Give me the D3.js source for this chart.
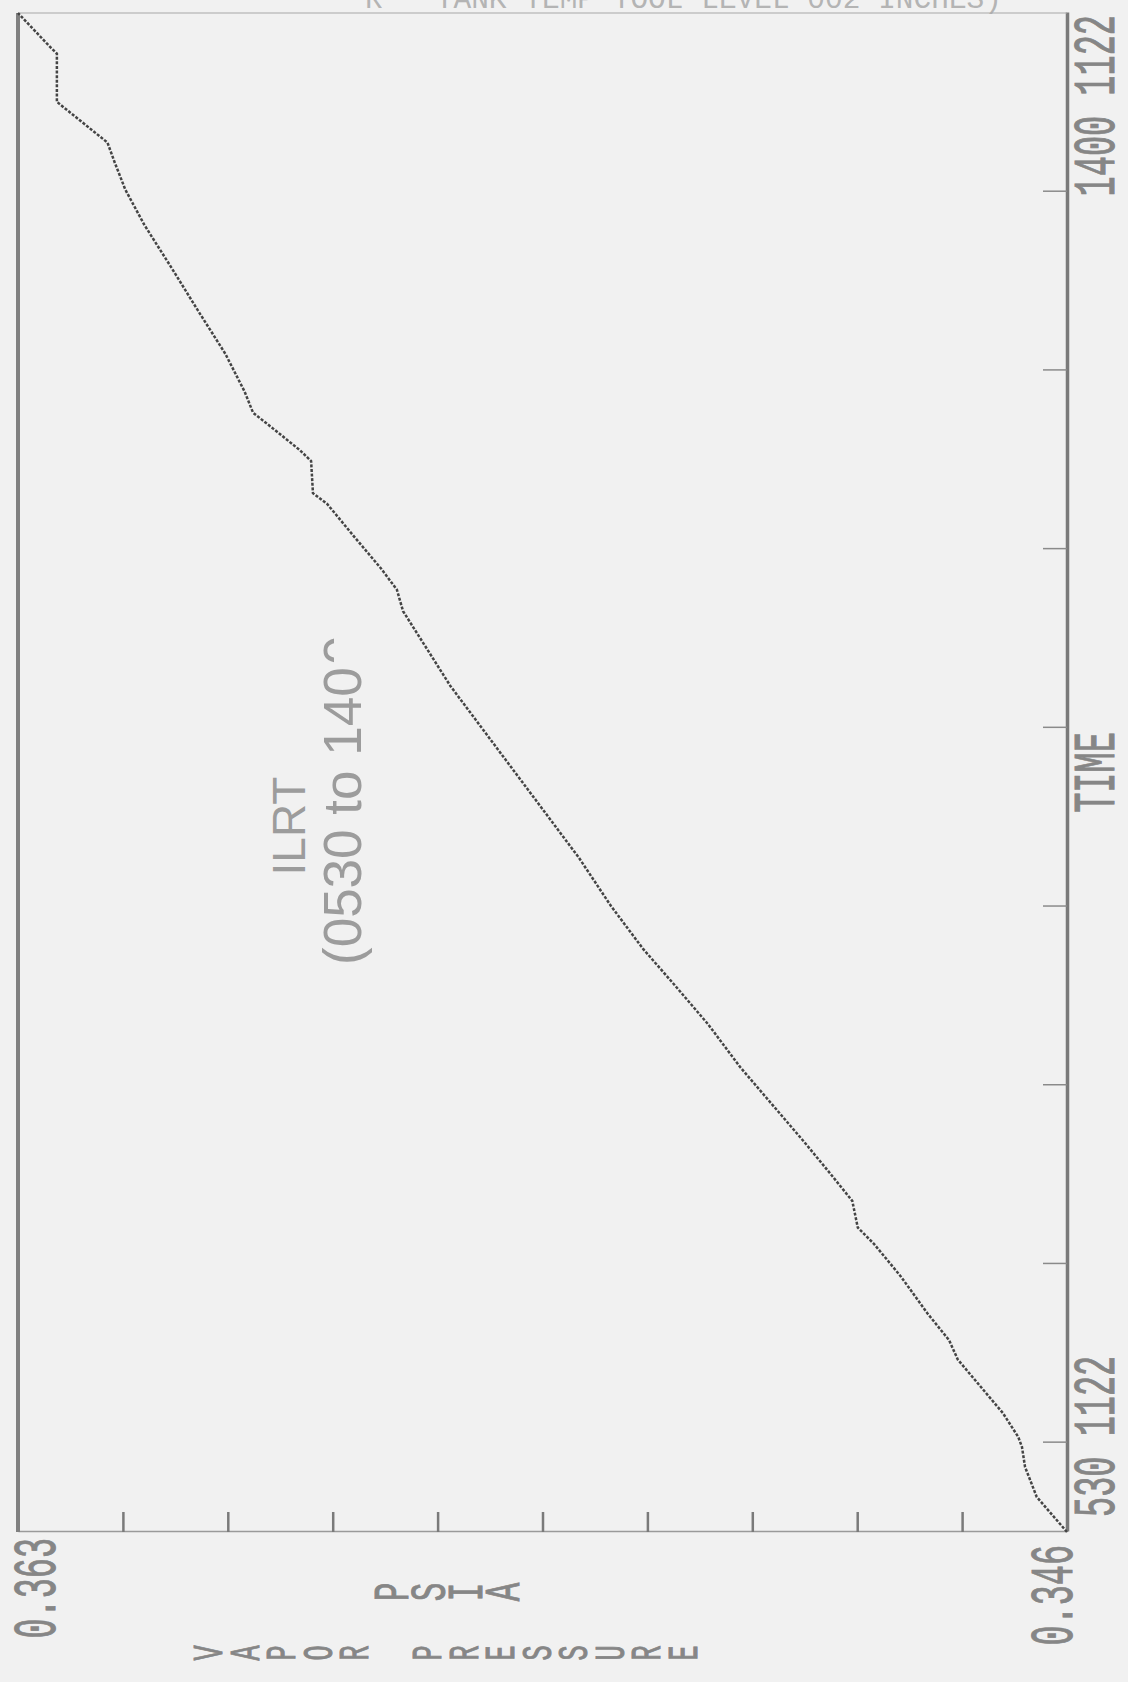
<!DOCTYPE html>
<html>
<head>
<meta charset="utf-8">
<script src="https://cdn.jsdelivr.net/npm/d3@7/dist/d3.min.js"></script>
<style>
  body { margin: 0; background: #f1f1f1; }
  svg { display: block; }
</style>
</head>
<body>
<div id="chart"></div>
<script>
var width = 1128,
    height = 1682;

// ILRT run, 05:30 to 14:00 on 11/22 (decimal hours) and vapor pressure (psia)
var hours = [5.5, 5.696, 5.864, 5.976, 6.032, 6.166, 6.465, 6.573, 6.723, 6.933,
             7.113, 7.203, 7.353, 7.503, 7.683, 7.893, 8.103, 8.343, 8.553, 8.763,
             9.003, 9.273, 9.513, 9.753, 9.993, 10.233, 10.473, 10.653, 10.773, 10.893,
             11.073, 11.253, 11.313, 11.493, 11.553, 11.673, 11.763, 11.883, 12.093, 12.333,
             12.573, 12.813, 13.011, 13.161, 13.275, 13.503, 13.773, 13.803, 14.0];
var pressure = [0.3460, 0.34649, 0.34668, 0.34673, 0.34679, 0.34704, 0.34777, 0.34791, 0.34826, 0.34870,
                0.34913, 0.34939, 0.34948, 0.34983, 0.35026, 0.35078, 0.35130, 0.35182, 0.35234, 0.35287,
                0.35339, 0.35391, 0.35443, 0.35495, 0.35547, 0.35599, 0.35643, 0.35676, 0.35686, 0.35712,
                0.35756, 0.35799, 0.35822, 0.35825, 0.35843, 0.35886, 0.35919, 0.35933, 0.35964, 0.36008,
                0.36051, 0.36095, 0.36126, 0.36143, 0.36155, 0.36237, 0.36237, 0.36246, 0.3630];

var hourTicks = [6, 7, 8, 9, 10, 11, 12, 13];
var pressureTicks = [0.3477, 0.3494, 0.3511, 0.3528, 0.3545, 0.3562, 0.3579, 0.3596, 0.3613];
var timeLabels = ['530 1122', '1400 1122'];
var pressureLabels = ['0.346', '0.363'];
var axisTitle = ['V', 'A', 'P', 'O', 'R', ' ', 'P', 'R', 'E', 'S', 'S', 'U', 'R', 'E'];
var unitTitle = ['P', 'S', 'I', 'A'];

var data = hours.map(function(h, i) { return {t: h, p: pressure[i]}; });

// page box of the plot; the chart is printed turned a quarter turn
var box = {left: 18, top: 13, right: 1067, bottom: 1532};
var W = box.bottom - box.top,   // time runs up the page
    H = box.right - box.left;   // pressure runs across the page

var mono = "'Liberation Mono', 'DejaVu Sans Mono', monospace";
var ink = '#868686';

var svg = d3.select('#chart').append('svg')
    .attr('width', width)
    .attr('height', height);

svg.append('rect')
    .attr('width', width)
    .attr('height', height)
    .attr('fill', '#f1f1f1');

// title, cut off at the page top
svg.append('text')
    .attr('x', 365)
    .attr('y', 8)
    .attr('textLength', 637)
    .attr('lengthAdjust', 'spacingAndGlyphs')
    .attr('font-family', mono)
    .attr('font-size', 30)
    .attr('fill', '#b4b4b4')
    .text("R ' TANK TEMP TOOL LEVEL   002 INCHES)");

var g = svg.append('g')
    .attr('transform', 'translate(' + box.left + ',' + box.bottom + ') rotate(-90)');

var x = d3.scaleLinear().domain([5.5, 14]).range([0, W]);
var y = d3.scaleLinear().domain([0.346, 0.363]).range([H, 0]);

// time axis (page right edge)
g.append('g')
    .attr('transform', 'translate(0,' + H + ')')
    .call(d3.axisBottom(x).tickValues(hourTicks).tickSize(-24).tickSizeOuter(0).tickFormat(''))
    .call(function(a) {
        a.select('.domain').attr('stroke', '#7a7a7a').attr('stroke-width', 3.5);
        a.selectAll('.tick line').attr('stroke', '#8a8a8a').attr('stroke-width', 1.5);
    });

// pressure axis (page bottom edge)
g.append('g')
    .call(d3.axisLeft(y).tickValues(pressureTicks).tickSize(-20).tickSizeOuter(0).tickFormat(''))
    .call(function(a) {
        a.select('.domain').attr('stroke', '#9a9a9a').attr('stroke-width', 1.6);
        a.selectAll('.tick line').attr('stroke', '#7a7a7a').attr('stroke-width', 2.5);
    });

// rest of the frame: page left edge (heavy) and page top edge (thin)
g.append('line')
    .attr('x1', 0).attr('x2', W).attr('y1', 0).attr('y2', 0)
    .attr('stroke', '#808080').attr('stroke-width', 4);
g.append('line')
    .attr('x1', W).attr('x2', W).attr('y1', 0).attr('y2', H)
    .attr('stroke', '#a8a8a8').attr('stroke-width', 1.2);

// data trace
g.append('path')
    .datum(data)
    .attr('fill', 'none')
    .attr('stroke', '#444')
    .attr('stroke-width', 2.5)
    .attr('stroke-dasharray', '3 1.6')
    .attr('d', d3.line()
        .x(function(d) { return x(d.t); })
        .y(function(d) { return y(d.p); }));

function condensed(sel, sx) {
    return sel.attr('font-family', mono)
        .attr('fill', ink)
        .attr('stroke', ink)
        .attr('stroke-width', 1)
        .attr('transform', function() {
            return d3.select(this).attr('transform') + ' scale(' + sx + ',1)';
        });
}

// time end labels and axis name
[[timeLabels[0], 15, 'start'], [timeLabels[1], W - 2, 'end'], ['TIME', W / 2, 'middle']]
    .forEach(function(l) {
        g.append('text')
            .attr('transform', 'translate(' + l[1] + ',' + (H + 47) + ')')
            .attr('text-anchor', l[2])
            .attr('font-size', 60)
            .text(l[0])
            .call(condensed, 0.56);
    });

// pressure end labels
g.append('text')
    .attr('transform', 'translate(-6,37)')
    .attr('text-anchor', 'end')
    .attr('font-size', 62)
    .text(pressureLabels[1])
    .call(condensed, 0.54);
g.append('text')
    .attr('transform', 'translate(-13,' + (H + 5) + ')')
    .attr('text-anchor', 'end')
    .attr('font-size', 62)
    .text(pressureLabels[0])
    .call(condensed, 0.54);

// stacked axis titles
unitTitle.forEach(function(c, i) {
    g.append('text')
        .attr('transform', 'translate(-60,' + (360 + 30 + i * 37) + ')')
        .attr('text-anchor', 'middle')
        .attr('font-size', 50)
        .text(c)
        .call(condensed, 0.62);
});
axisTitle.forEach(function(c, i) {
    g.append('text')
        .attr('transform', 'translate(-121,' + (179 + 25 + i * 36.5) + ')')
        .attr('text-anchor', 'middle')
        .attr('font-size', 42)
        .text(c)
        .call(condensed, 0.6);
});

// note inside the plot
var sans = "'Liberation Sans', Arial, sans-serif";
g.append('text')
    .attr('x', 706).attr('y', 287)
    .attr('text-anchor', 'middle')
    .attr('font-family', sans)
    .attr('font-size', 46)
    .attr('fill', '#9c9c9c')
    .text('ILRT');
var note = g.append('text')
    .attr('x', 567).attr('y', 343)
    .attr('font-family', sans)
    .attr('font-size', 53)
    .attr('fill', '#9c9c9c')
    .text('(0530 to 140');
var endX = 567 + note.node().getComputedTextLength() + 2;
g.append('clipPath').attr('id', 'cut')
    .append('rect').attr('x', endX - 2).attr('y', 300).attr('width', 40).attr('height', 16);
g.append('text')
    .attr('x', endX).attr('y', 343)
    .attr('font-family', sans)
    .attr('font-size', 53)
    .attr('fill', '#9c9c9c')
    .attr('clip-path', 'url(#cut)')
    .text('0');
</script>
</body>
</html>
